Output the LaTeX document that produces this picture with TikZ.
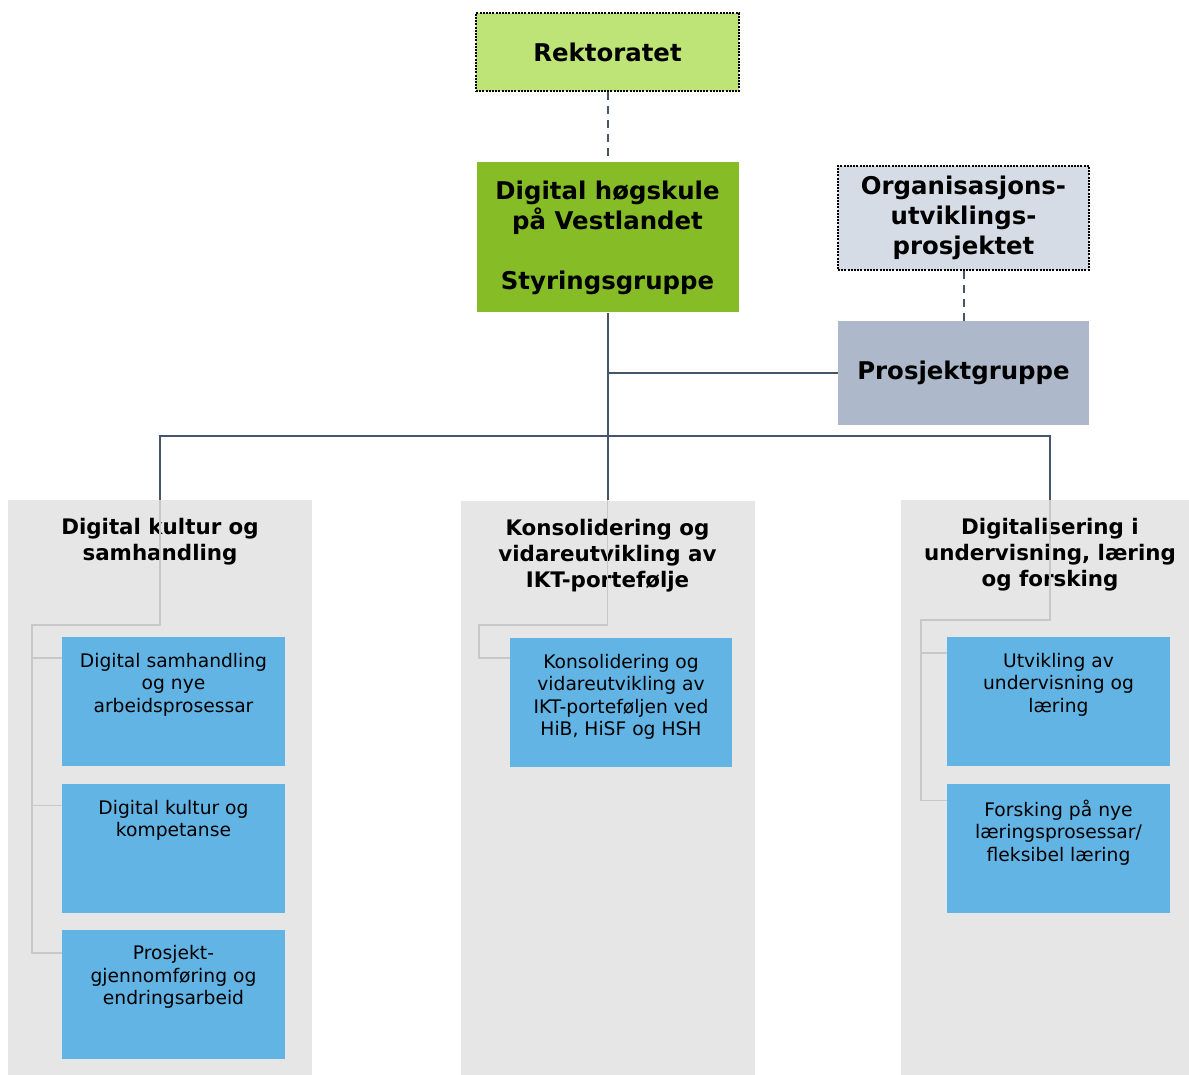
\documentclass[tikz,border=0pt]{standalone}
\usepackage{fontspec}
\setmainfont{DejaVu Sans}
\usetikzlibrary{positioning, calc}

\definecolor{rektgreen}{RGB}{190,227,118}
\definecolor{styrgreen}{RGB}{134,188,37}
\definecolor{orggrey}{RGB}{214,220,229}
\definecolor{progrey}{RGB}{173,185,202}
\definecolor{panelgrey}{RGB}{230,230,230}
\definecolor{subblue}{RGB}{97,180,228}
\definecolor{linegrey}{RGB}{68,84,106}
\definecolor{twiggrey}{RGB}{200,200,200}

\tikzset{%
   topbox/.style={
      rectangle,
      align=center,
      inner sep=0pt,
      font=\fontsize{12.2}{15}\selectfont\bfseries
   },
   % dotted frame round the boxes outside the line organisation
   dotbox/.style={
      topbox,
      draw=black,
      line width=1.1pt,
      dash pattern=on 1pt off 0.6pt
   },
   panel/.style={
      rectangle,
      fill=panelgrey,
      inner sep=0pt,
      minimum width=#1,
      minimum height=287.5pt
   },
   heading/.style={
      align=center,
      inner sep=0pt,
      font=\fontsize{10.7}{13}\selectfont\bfseries
   },
   subbox/.style={
      rectangle,
      fill=subblue,
      inner sep=0pt,
      minimum width=111.5pt,
      minimum height=64.5pt
   },
   subtext/.style={
      anchor=north,
      align=center,
      inner sep=0pt,
      yshift=-8pt,
      font=\fontsize{9.35}{11.25}\selectfont
   },
   trunk/.style={draw=linegrey, line width=1pt},
   dashline/.style={trunk, dash pattern=on 4pt off 3pt},
   twig/.style={draw=twiggrey, line width=0.9pt},
}

\begin{document}
\begin{tikzpicture}[x=0.5pt, y=-0.5pt]
   \useasboundingbox (0,0) rectangle (1189,1075);

   % top of the chart
   \node[dotbox, fill=rektgreen, minimum width=131.5pt, minimum height=39pt]
      (rek) at (607.5,52) {Rektoratet};
   \node[topbox, fill=styrgreen, minimum width=131pt, minimum height=75pt]
      (styr) at (607.5,237.5) {Digital høgskule\\på Vestlandet\\[15pt]Styringsgruppe};
   \node[dotbox, fill=orggrey, minimum width=125.5pt, minimum height=52pt]
      (org) at (963.5,218) {Organisasjons-\\utviklings-\\prosjektet};
   \node[topbox, fill=progrey, minimum width=125.5pt, minimum height=52pt]
      (pro) at (963.5,373) {Prosjektgruppe};

   % the three columns
   \node[panel=152pt] (lcol) at (160,787.5) {};
   \node[panel=147pt] (mcol) at (607.5,788) {};
   \node[panel=144pt] (rcol) at (1045,787.5) {};

   \node[subbox] (s1) at (173.5,701.5) {};
   \node[subbox, below=8.5pt of s1] (s2) {};
   \node[subbox, below=8pt of s2] (s3) {};
   \node[subbox, minimum width=111pt] (m1) at (621,702.5) {};
   \node[subbox] (r1) at (1058.5,701.5) {};
   \node[subbox, below=8.5pt of r1] (r2) {};

   \node[subtext] (s1t) at (s1.north) {Digital samhandling\\og nye\\arbeidsprosessar};
   \node[subtext] (s2t) at (s2.north) {Digital kultur og\\kompetanse};
   \node[subtext] (s3t) at (s3.north) {Prosjekt-\\gjennomføring og\\endringsarbeid};
   \node[subtext] (m1t) at (m1.north) {Konsolidering og\\vidareutvikling av\\IKT-porteføljen ved\\HiB, HiSF og HSH};
   \node[subtext] (r1t) at (r1.north) {Utvikling av\\undervisning og\\læring};
   \node[subtext] (r2t) at (r2.north) {Forsking på nye\\læringsprosessar/\\fleksibel læring};

   \node[heading, below=9pt of lcol.north] (lhd) {Digital kultur og\\samhandling};
   \node[heading, below=9.5pt of mcol.north] (mhd) {Konsolidering og\\vidareutvikling av\\IKT-portefølje};
   \node[heading, below=9pt of rcol.north, xshift=2.5pt] (rhd) {Digitalisering i\\undervisning, læring\\og forsking};

   % thin lines inside the columns
   \coordinate (lsp) at ($(s1.north west)+(-30,-12)$);
   \coordinate (s1in) at ($(s1.north west)+(0,21)$);
   \coordinate (s2in) at ($(s2.north west)+(0,22)$);
   \coordinate (s3in) at ($(s3.north west)+(0,24)$);
   \draw[twig] (lcol.north) |- (lsp) |- (s3in);
   \draw[twig] (lsp |- s1in) -- (s1in);
   \draw[twig] (lsp |- s2in) -- (s2in);

   \coordinate (msp) at ($(m1.north west)+(-31,-13)$);
   \coordinate (m1in) at ($(m1.north west)+(0,20)$);
   \draw[twig] (mcol.north) |- (msp) |- (m1in);

   \coordinate (rsp) at ($(r1.north west)+(-26,-17)$);
   \coordinate (r1in) at ($(r1.north west)+(0,16)$);
   \coordinate (r2in) at ($(r2.north west)+(0,17)$);
   \draw[twig] (rcol.north -| rhd.north) |- (rsp) |- (r2in);
   \draw[twig] (rsp |- r1in) -- (r1in);

   % main lines
   \draw[dashline] (rek) -- (styr);
   \draw[dashline] (org) -- (pro);
   \draw[trunk] (styr.south) -- (mcol.north);
   \draw[trunk] (styr.south |- pro.west) -- (pro.west);
   \draw[trunk] (lcol.north) -- ++(0,-64) -| (rcol.north -| rhd.north);
\end{tikzpicture}
\end{document}
